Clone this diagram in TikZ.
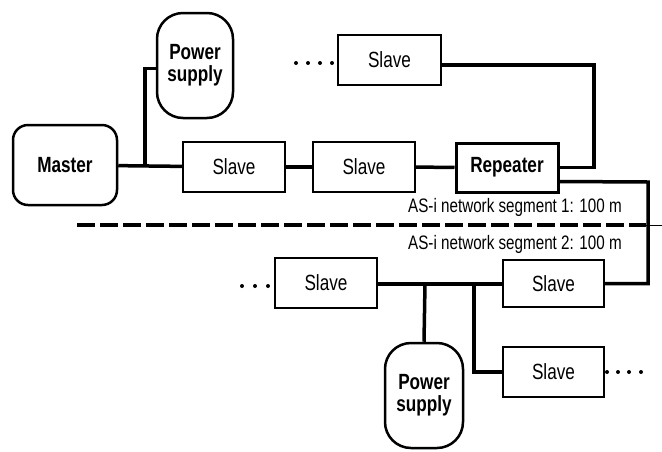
\documentclass[tikz,border=0pt]{standalone}
\usepackage{fontspec}
\setmainfont{Liberation Sans}[FakeStretch=0.78]

\begin{document}
\begin{tikzpicture}[x=1pt,y=-1pt,
    slavebox/.style={draw, line width=2pt, minimum width=102pt, minimum height=50pt,
      inner sep=0pt, font=\fontsize{22}{24}\selectfont},
    unitbox/.style={draw, line width=2.5pt, inner sep=0pt, align=center,
      font=\bfseries\fontsize{22}{22}\selectfont},
    bus/.style={line width=3.5pt},
    seglabel/.style={inner sep=0pt, font=\fontsize{19.5}{21}\selectfont}]
  \useasboundingbox (0,0) rectangle (662,451);

  % segment 1
  \node[unitbox, rounded corners=15pt, minimum width=104pt, minimum height=80pt] (master) at (65,165) {Master};
  \node[unitbox, rounded corners=26pt, minimum width=76pt, minimum height=105pt] (psupA) at (195,65.5) {Power\\supply};
  \node[slavebox] (slaveA) at (234,167) {Slave};
  \node[slavebox] (slaveB) at (364,167) {Slave};
  \node[slavebox, line width=3pt, minimum height=49pt, font=\bfseries\fontsize{22}{24}\selectfont] (rep) at (507,167.5) {Repeater};
  \node[slavebox, minimum width=103pt] (slavetop) at (389.5,60) {Slave};

  % segment 2
  \node[slavebox] (slaveC) at (326,283) {Slave};
  \node[slavebox, minimum width=101pt, minimum height=47pt] (slaveD) at (553.5,283.5) {Slave};
  \node[slavebox, minimum width=101pt] (slaveE) at (553.5,372) {Slave};
  \node[unitbox, rounded corners=26pt, minimum width=78pt, minimum height=105pt] (psupB) at (424,395.5) {Power\\supply};

  \coordinate (jA) at (145,167);
  \coordinate (jB) at (425,284);
  \coordinate (jC) at (474,284);

  \draw[bus] (master) -- (slaveA);
  \draw[bus] (jA) |- ([yshift=-3pt]psupA.west);
  \draw[bus] (slaveA) -- (slaveB);
  \draw[bus] (slaveB) -- (rep);
  \draw[bus] (rep.east) -- (594,167.5) |- ([yshift=-5pt]slavetop.east);
  \draw[bus] ([yshift=-14pt]rep.east) -- (648,182) |- (slaveD.east);
  \draw[bus] (slaveC.east |- jB) -- (slaveD.west |- jB);
  \draw[bus] (jB) -- (psupB.north);
  \draw[bus] (jC) |- (slaveE.west);

  % dots
  \foreach \x in {296,308,320,332} \fill (\x,63) circle (2pt);
  \foreach \x in {242,255,268} \fill (\x,286) circle (2pt);
  \foreach \x in {607,618,629,641} \fill (\x,372) circle (2pt);

  % segment border
  \draw[line width=4pt, dash pattern=on 18pt off 5pt] (77,225) -- (646,225);
  \draw[line width=1pt] (646,225) -- (662,225);
  \node[seglabel] (segA) at (515,207) {AS-i network segment 1: 100 m};
  \node[seglabel] (segB) at (515,244) {AS-i network segment 2: 100 m};
\end{tikzpicture}
\end{document}
